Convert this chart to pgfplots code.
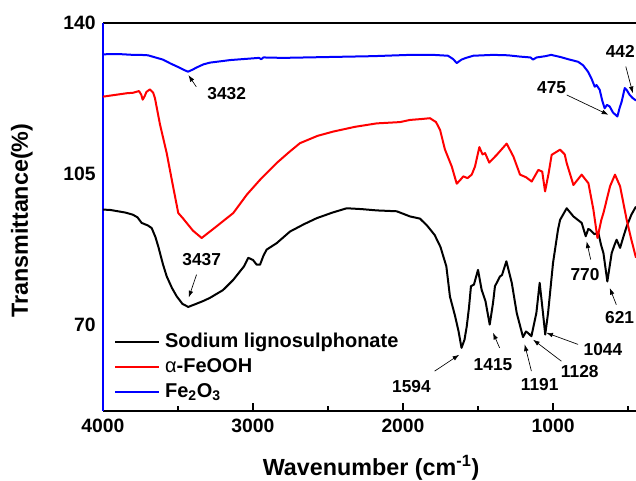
\documentclass[border=0pt]{standalone}
\usepackage{fontspec}
\setmainfont{Liberation Sans}
\usepackage{pgfplots}
\pgfplotsset{compat=1.18}
\usetikzlibrary{arrows.meta}
\begin{document}
\begin{tikzpicture}
\begin{axis}[
  scale only axis, width=400pt, height=291pt,
  x dir=reverse, xmin=447, xmax=4000, ymin=50, ymax=140,
  xtick={1000,2000,3000,4000}, minor xtick={500,1500,2500,3500},
  ytick={70,105,140},
  axis x line=box, axis y line*=left,
  axis line style={-, line width=1.5pt},
  y axis line style={-, blue, line width=1.5pt},
  xtick pos=bottom, ytick pos=left,
  tick align=inside, major tick length=6pt, minor tick length=3.5pt,
  xtick style={line width=1.5pt, black}, ytick style={draw=none},
  /pgf/number format/assume math mode=true,
  /pgf/number format/1000 sep={},
  ticklabel style={font=\fontsize{14.5}{16}\selectfont\bfseries},
  xticklabel style={yshift=-3pt},
  yticklabel style={xshift=-2pt},
  xlabel={Wavenumber (cm\textsuperscript{-1})},
  ylabel={Transmittance(\%)},
  label style={font=\fontsize{17.5}{20}\selectfont\bfseries},
  xlabel style={at={(axis description cs:0.503,-0.147)}, anchor=center},
  ylabel style={at={(axis description cs:-0.152,0.49)}, anchor=center, rotate=0},
  legend style={draw=none, fill=none, inner sep=0pt, at={(axis description cs:0.0206,0.202)}, anchor=north west,
    font=\fontsize{15}{18}\selectfont\bfseries, nodes={inner sep=0pt, text height=11pt, text depth=3pt},
    row sep=4.75pt, column sep=3.75pt},
  legend cell align=left,
  legend image code/.code={\draw[#1] (0pt,0pt) -- (33pt,0pt);},
  every axis plot/.append style={line width=1.5pt, line join=round},
]
% Sodium lignosulphonate
\addplot[black] coordinates {
(4000,96.7)(3950,96.6)(3900,96.3)(3850,96.0)(3800,95.5)(3770,94.9)(3742,93.6)(3700,93.0)(3675,92.4)(3650,90.3)(3631,88.1)(3600,84.0)(3575,81.2)
(3540,78.5)(3509,76.6)(3470,74.8)(3431,74.1)(3380,74.8)(3330,75.5)(3287,76.2)(3200,78.0)(3131,80.4)(3060,83.5)(3031,85.5)(3000,85.0)
(2975,83.9)(2953,83.9)(2930,86.0)(2909,87.4)(2842,88.9)(2753,91.6)(2660,93.3)(2575,94.7)(2470,96.0)(2375,97.0)(2275,96.8)(2175,96.5)
(2042,96.3)(1953,95.1)(1887,94.6)(1840,93.0)(1789,90.8)(1750,88.0)(1711,83.5)(1687,76.5)(1653,72.0)(1630,68.5)(1610,64.6)(1590,66.5)
(1575,69.6)(1560,74.0)(1547,78.9)(1527,79.3)(1500,82.7)(1476,78.1)(1450,75.4)(1422,70.0)(1400,75.0)(1387,78.9)(1353,81.2)(1340,81.5)
(1311,84.7)(1275,79.7)(1242,72.7)(1200,67.1)(1180,68.4)(1165,68.0)(1144,67.3)(1111,72.7)(1089,79.7)(1067,72.7)(1052,67.7)(1033,72.7)
(1000,84.3)(967,92.0)(953,94.3)(909,97.0)(864,95.1)(809,93.6)(782,90.5)(765,92.2)(753,92.0)(725,91.0)(698,91.3)(680,88.5)(664,86.6)
(638,80.0)(609,86.6)(590,88.5)(576,89.7)(553,87.8)(530,90.5)(509,92.8)(478,95.5)(447,97.4)
};
\addlegendentry{Sodium lignosulphonate}
% alpha-FeOOH
\addplot[red] coordinates {
(4000,122.9)(3960,123.1)(3920,123.3)(3880,123.5)(3840,123.7)(3800,123.8)(3760,124.2)(3745,123.4)(3735,122.2)(3722,123.0)(3710,124.0)
(3687,124.6)(3665,123.8)(3653,122.5)(3620,116.5)(3575,109.8)(3535,102.5)(3498,95.9)(3470,94.8)(3442,93.6)(3400,91.8)(3342,90.1)
(3250,92.6)(3131,95.9)(3040,100.2)(2953,103.6)(2842,107.5)(2760,110.0)(2687,112.1)(2570,113.8)(2465,114.8)(2320,115.9)(2175,116.7)
(2020,117.0)(1953,117.5)(1880,117.7)(1820,117.9)(1780,117.0)(1753,115.2)(1720,110.6)(1675,106.7)(1642,102.7)(1620,103.5)(1598,104.4)
(1570,104.0)(1542,104.8)(1520,106.7)(1491,111.2)(1470,109.5)(1453,109.8)(1425,107.6)(1375,109.4)(1309,112.0)(1264,109.0)(1220,104.8)
(1180,104.2)(1142,103.2)(1098,105.9)(1072,105.5)(1053,100.9)(1030,105.0)(1009,109.4)(953,110.6)(922,109.5)(909,107.5)(864,102.4)
(809,104.8)(780,103.5)(764,102.8)(731,96.7)(704,90.1)(678,94.3)(664,95.9)(620,102.1)(587,104.8)(553,102.1)(509,94.3)(480,90.0)(447,85.5)
};
\addlegendentry{{\normalfont α}-FeOOH}
% Fe2O3
\addplot[blue] coordinates {
(4000,132.7)(3950,132.8)(3900,132.8)(3850,132.7)(3800,132.6)(3750,132.6)(3700,132.5)(3650,132.0)(3600,131.5)(3550,130.6)(3500,129.8)
(3460,129.1)(3433,128.7)(3400,129.2)(3380,129.6)(3330,130.4)(3287,130.8)(3150,131.4)(2960,131.9)(2945,131.6)(2930,132.0)(2800,131.9)
(2500,132.1)(2200,132.3)(1953,132.6)(1800,132.6)(1700,132.4)(1665,131.6)(1642,130.7)(1610,131.5)(1580,131.9)(1531,132.4)(1400,132.6)
(1300,132.5)(1220,132.2)(1150,132.0)(1133,131.5)(1110,132.0)(1050,132.3)(1013,132.6)(950,132.1)(900,131.6)(833,131.0)(800,130.2)
(767,128.7)(745,127.2)(722,125.2)(710,125.6)(689,124.5)(672,122.0)(656,120.2)(640,121.0)(622,120.6)(600,119.2)(571,118.3)(556,120.3)
(542,121.8)(522,124.9)(510,124.5)(489,123.3)(470,122.6)(447,122.0)
};
\addlegendentry{Fe\textsubscript{2}O\textsubscript{3}}
% annotations
\begin{scope}[font=\fontsize{13}{15}\selectfont\bfseries]
\node at (axis cs:3175,123.7) {3432};
\draw[-{Latex[length=5pt,width=3.5pt]}, line width=0.5pt] (axis cs:3378,125.2) -- (axis cs:3430,127.9);
\node at (axis cs:3342,85.2) {3437};
\draw[-{Latex[length=5pt,width=3.5pt]}, line width=0.5pt] (axis cs:3376,81.6) -- (axis cs:3428,76.3);
\node at (axis cs:1944,55.7) {1594};
\draw[-{Latex[length=5pt,width=3.5pt]}, line width=0.5pt] (axis cs:1789,59.2) -- (axis cs:1625,63.0);
\node at (axis cs:1400,60.7) {1415};
\draw[-{Latex[length=5pt,width=3.5pt]}, line width=0.5pt] (axis cs:1356,64.6) -- (axis cs:1400,68.1);
\node at (axis cs:1089,56.1) {1191};
\draw[-{Latex[length=5pt,width=3.5pt]}, line width=0.5pt] (axis cs:1144,59.2) -- (axis cs:1189,65.4);
\node at (axis cs:822,59.2) {1128};
\draw[-{Latex[length=5pt,width=3.5pt]}, line width=0.5pt] (axis cs:944,61.5) -- (axis cs:1133,66.5);
\node at (axis cs:667,64.2) {1044};
\draw[-{Latex[length=5pt,width=3.5pt]}, line width=0.5pt] (axis cs:833,65.4) -- (axis cs:1045,68.1);
\node at (axis cs:787,81.6) {770};
\draw[-{Latex[length=5pt,width=3.5pt]}, line width=0.5pt] (axis cs:749,85.1) -- (axis cs:776,89.3);
\node at (axis cs:556,71.6) {621};
\draw[-{Latex[length=5pt,width=3.5pt]}, line width=0.5pt] (axis cs:578,74.6) -- (axis cs:622,78.5);
\node at (axis cs:1009,124.9) {475};
\draw[-{Latex[length=5pt,width=3.5pt]}, line width=0.5pt] (axis cs:909,123.3) -- (axis cs:631,118.7);
\node at (axis cs:552,133.3) {442};
\draw[-{Latex[length=5pt,width=3.5pt]}, line width=0.5pt] (axis cs:515,129.9) -- (axis cs:468,123.7);
\end{scope}
\coordinate (bl) at (rel axis cs:0,0);
\coordinate (tr) at (rel axis cs:1,1);
\end{axis}
\pgfresetboundingbox
\path[use as bounding box] ([xshift=-77.25pt,yshift=-52.5pt]bl) rectangle ([yshift=17.25pt]tr);
\end{tikzpicture}
\end{document}
